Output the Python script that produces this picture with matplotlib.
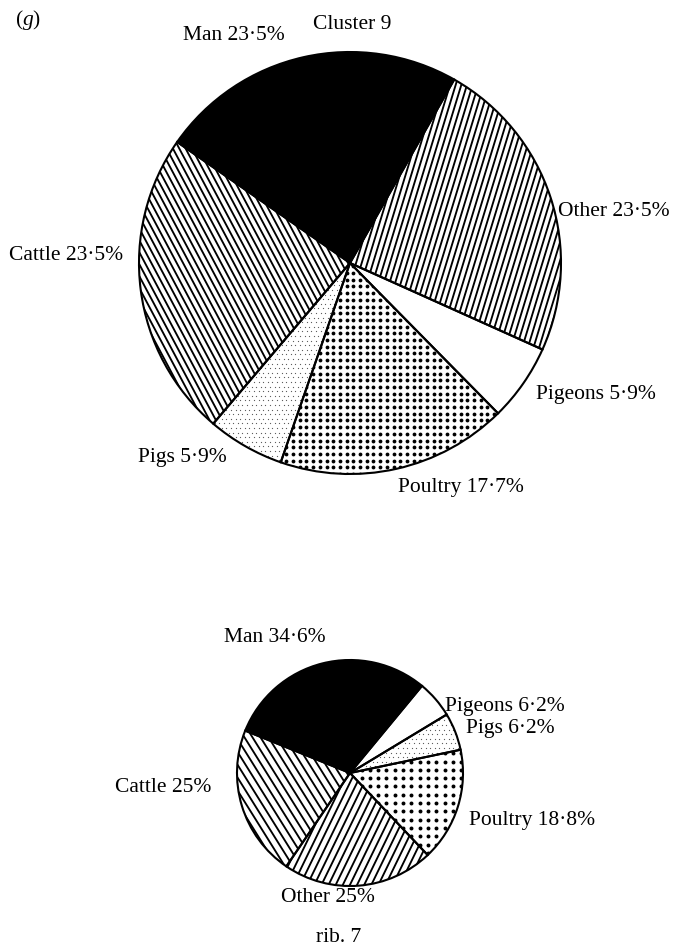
import numpy as np
import matplotlib
matplotlib.use("Agg")
import matplotlib.pyplot as plt
from matplotlib.collections import LineCollection

plt.rcParams["mathtext.fontset"] = "custom"
plt.rcParams["mathtext.rm"] = "Liberation Serif"
plt.rcParams["mathtext.it"] = "Liberation Serif:italic"

# ---------------- data ----------------
top_categories = ["Man", "Other", "Pigeons", "Poultry", "Pigs", "Cattle"]
top_values = [23.5, 23.5, 5.9, 17.7, 5.9, 23.5]
top_title = "Cluster 9"

bottom_categories = ["Man", "Pigeons", "Pigs", "Poultry", "Other", "Cattle"]
bottom_values = [34.6, 6.2, 6.2, 18.8, 25, 25]
bottom_title = "rib. 7"

panel_label = r"($\mathit{g}$)"

# ---------------- layout ----------------
W, H = 674, 949
fig = plt.figure(figsize=(W / 100, H / 100), dpi=100)
ax = fig.add_axes([0, 0, 1, 1])
FONT = ["Liberation Serif", "DejaVu Serif"]
FS = 15.5


def fmt(name, v):
    return f"{name} {v:g}%".replace(".", "\u00b7")


def hatch_lines(wedge, cx, cy, r, angle, spacing, lw=1.35):
    u = np.array([np.cos(np.radians(angle)), np.sin(np.radians(angle))])
    n = np.array([-u[1], u[0]])
    segs = []
    for off in np.arange(-r - spacing, r + spacing, spacing):
        p = np.array([cx, cy]) + off * n
        segs.append([p - 1.1 * r * u, p + 1.1 * r * u])
    lc = LineCollection(segs, colors="black", linewidths=lw, zorder=2)
    ax.add_collection(lc)
    lc.set_clip_path(wedge)


def dot_grid(wedge, cx, cy, r, spacing, size, color="black", stagger=False):
    xs = np.arange(cx - r, cx + r + spacing, spacing)
    ys = np.arange(cy - r, cy + r + spacing, spacing)
    pts = []
    for j, y in enumerate(ys):
        shift = spacing / 2 if (stagger and j % 2) else 0
        for x in xs:
            pts.append((x + shift, y))
    pts = np.array(pts)
    sc = ax.scatter(pts[:, 0], pts[:, 1], s=size, c=color, marker="o",
                    linewidths=0, zorder=2)
    sc.set_clip_path(wedge)


def draw_pie(cats, vals, cx, cy, r, start, style):
    wedges, _ = ax.pie(vals, center=(cx, cy), radius=r, startangle=start,
                       counterclock=False, colors=["white"] * len(vals),
                       wedgeprops=dict(linewidth=0, zorder=1))
    for w, c in zip(wedges, cats):
        kind = style[c]
        if kind[0] == "solid":
            w.set_facecolor("black")
        elif kind[0] == "lines":
            hatch_lines(w, cx, cy, r, kind[1], kind[2])
        elif kind[0] == "dots":
            dot_grid(w, cx, cy, r, kind[1], kind[2])
        elif kind[0] == "stipple":
            dot_grid(w, cx, cy, r, kind[1], kind[2], color="0.35", stagger=True)
    # outlines on top
    ax.pie(vals, center=(cx, cy), radius=r, startangle=start,
           counterclock=False,
           wedgeprops=dict(facecolor="none", edgecolor="black",
                           linewidth=1.5, zorder=3))


top_style = {
    "Man": ("solid",),
    "Other": ("lines", 73, 5.4),
    "Pigeons": ("white",),
    "Poultry": ("dots", 6.7, 7.5),
    "Pigs": ("stipple", 4.6, 0.8),
    "Cattle": ("lines", 118, 5.6),
}
bottom_style = {
    "Man": ("solid",),
    "Other": ("lines", 64, 6.4),
    "Pigeons": ("white",),
    "Poultry": ("dots", 8.3, 8.0),
    "Pigs": ("stipple", 4.6, 0.8),
    "Cattle": ("lines", 122, 6.8),
}

draw_pie(top_categories, top_values, 350, H - 263, 211, 145, top_style)
draw_pie(bottom_categories, bottom_values, 350, H - 773, 113, 158, bottom_style)

# ---------------- labels ----------------
top_label_pos = {
    "Man": (234, 35), "Other": (614, 211), "Pigeons": (596, 394),
    "Poultry": (461, 487), "Pigs": (182, 457), "Cattle": (66, 255),
}
bottom_label_pos = {
    "Man": (275, 638), "Pigeons": (505, 707), "Pigs": (510, 728),
    "Poultry": (532, 820), "Other": (328, 897), "Cattle": (163, 788),
}

for c, v in zip(top_categories, top_values):
    x, y = top_label_pos[c]
    ax.text(x, H - y, fmt(c, v), ha="center", va="center",
            fontsize=FS, family=FONT)
for c, v in zip(bottom_categories, bottom_values):
    x, y = bottom_label_pos[c]
    ax.text(x, H - y, fmt(c, v), ha="center", va="center",
            fontsize=FS, family=FONT)

ax.text(352, H - 24, top_title, ha="center", va="center", fontsize=FS, family=FONT)
ax.text(339, H - 937, bottom_title, ha="center", va="center", fontsize=FS, family=FONT)
ax.text(28, H - 20, panel_label, ha="center", va="center", fontsize=FS, family=FONT)

ax.set_xlim(0, W)
ax.set_ylim(0, H)
ax.set_aspect("equal")
ax.axis("off")

fig.savefig("out.png", dpi=100, facecolor="white")
